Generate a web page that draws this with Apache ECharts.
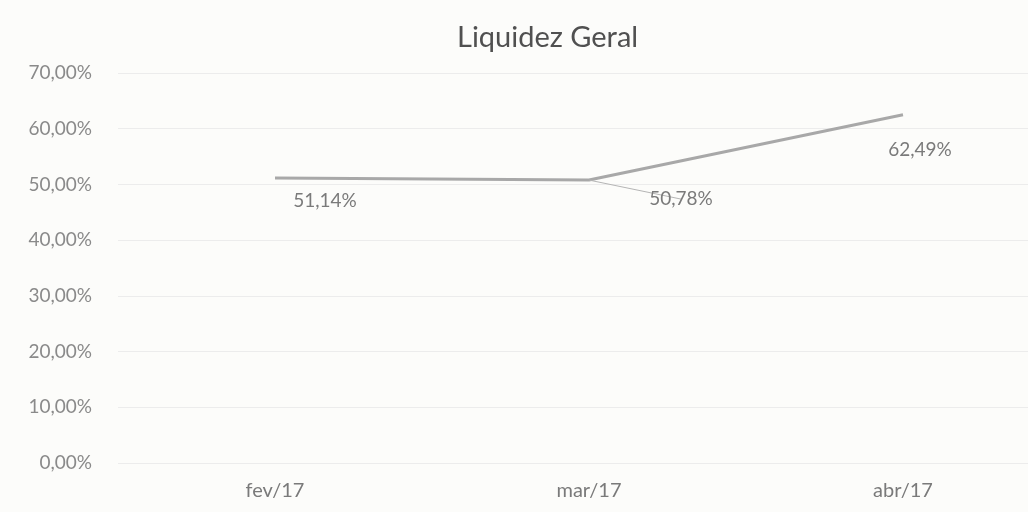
<!DOCTYPE html>
<html>
<head>
<meta charset="utf-8">
<script src="https://cdn.jsdelivr.net/npm/echarts@6/dist/echarts.min.js"></script>
<style>
  html, body { margin: 0; padding: 0; background: #fcfcfa; overflow: hidden; }
  #chart { width: 1060px; height: 512px; }
</style>
</head>
<body>
<div id="chart"></div>
<script>
// chart values
var months = ["fev/17", "mar/17", "abr/17"];
var liquidez = [51.14, 50.78, 62.49];
var yTicks = [0, 10, 20, 30, 40, 50, 60, 70];

var fmt = function (v) {
  return v.toFixed(2).replace(".", ",") + "%";
};

// label placement per point, as in the original
var labelOffsets = [[50, 8], [92, 4], [17, 20]];

var chart = echarts.init(document.getElementById("chart"), null, { renderer: "canvas" });

chart.setOption({
  backgroundColor: "#fcfcfa",
  textStyle: { fontFamily: "Lato, 'Open Sans', sans-serif" },
  title: {
    text: "Liquidez Geral",
    left: 452,
    top: 18,
    textStyle: { fontSize: 29, fontWeight: "normal", color: "#505050", fontFamily: "Lato, 'Open Sans', sans-serif" }
  },
  grid: { left: 118, right: 0, top: 73, bottom: 49 },
  xAxis: {
    type: "category",
    data: months,
    axisLine: { show: false },
    axisTick: { show: false },
    axisLabel: { color: "#7a7a7a", fontSize: 20, margin: 18 }
  },
  yAxis: {
    type: "value",
    min: yTicks[0],
    max: yTicks[yTicks.length - 1],
    interval: 10,
    axisLine: { show: false },
    axisTick: { show: false },
    splitLine: { lineStyle: { color: "#ececec", width: 1 } },
    axisLabel: { color: "#8a8a8a", fontSize: 19, margin: 26, formatter: function (v) { return fmt(v); } }
  },
  series: [{
    type: "line",
    data: liquidez.map(function (v, i) {
      return {
        value: v,
        label: { offset: labelOffsets[i] },
        labelLine: { show: i === 1, lineStyle: { color: "#b5b5b5", width: 1 } }
      };
    }),
    symbol: "circle",
    symbolSize: 1,
    itemStyle: { color: "rgba(168,168,168,0)" },
    lineStyle: { color: "#a8a8a8", width: 3 },
    label: {
      show: true,
      position: "bottom",
      color: "#7a7a7a",
      fontSize: 19,
      formatter: function (p) { return fmt(p.value); }
    },
    animation: false
  }]
});
</script>
</body>
</html>
